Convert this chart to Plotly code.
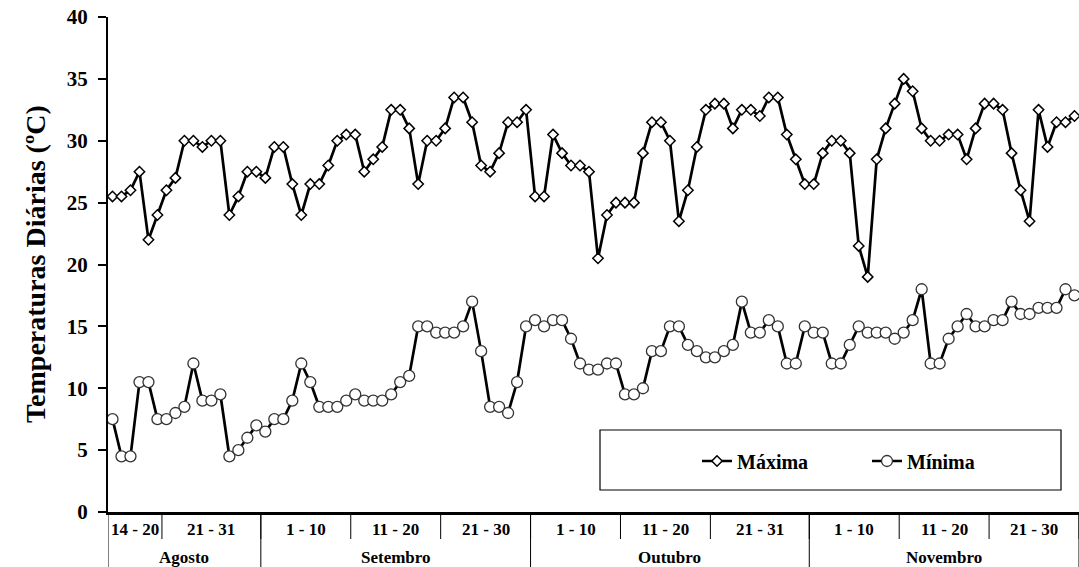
import plotly.graph_objects as go

# ---- data ----
maxima = [25.5, 25.5, 26, 27.5, 22, 24, 26, 27, 30, 30, 29.5, 30, 30, 24, 25.5, 27.5, 27.5,
          27, 29.5, 29.5, 26.5, 24, 26.5, 26.5, 28, 30, 30.5, 30.5, 27.5, 28.5, 29.5, 32.5, 32.5, 31,
          26.5, 30, 30, 31, 33.5, 33.5, 31.5, 28, 27.5, 29, 31.5, 31.5, 32.5,
          25.5, 25.5, 30.5, 29, 28, 28, 27.5, 20.5, 24, 25, 25, 25, 29, 31.5, 31.5, 30, 23.5,
          26, 29.5, 32.5, 33, 33, 31, 32.5, 32.5, 32, 33.5, 33.5, 30.5, 28.5, 26.5, 26.5,
          29, 30, 30, 29, 21.5, 19, 28.5, 31, 33, 35, 34, 31, 30, 30, 30.5, 30.5, 28.5, 31,
          33, 33, 32.5, 29, 26, 23.5, 32.5, 29.5, 31.5, 31.5, 32]
minima = [7.5, 4.5, 4.5, 10.5, 10.5, 7.5, 7.5, 8, 8.5, 12, 9, 9, 9.5, 4.5, 5, 6, 7,
          6.5, 7.5, 7.5, 9, 12, 10.5, 8.5, 8.5, 8.5, 9, 9.5, 9, 9, 9, 9.5, 10.5, 11,
          15, 15, 14.5, 14.5, 14.5, 15, 17, 13, 8.5, 8.5, 8, 10.5, 15,
          15.5, 15, 15.5, 15.5, 14, 12, 11.5, 11.5, 12, 12, 9.5, 9.5, 10, 13, 13, 15, 15,
          13.5, 13, 12.5, 12.5, 13, 13.5, 17, 14.5, 14.5, 15.5, 15, 12, 12,
          15, 14.5, 14.5, 12, 12, 13.5, 15, 14.5, 14.5, 14.5, 14, 14.5, 15.5, 18, 12, 12,
          14, 15, 16, 15, 15, 15.5, 15.5, 17, 16, 16, 16.5, 16.5, 16.5, 18, 17.5]

period_labels = ["14 - 20", "21 - 31", "1 - 10", "11 - 20", "21 - 30", "1 - 10", "11 - 20",
                 "21 - 31", "1 - 10", "11 - 20", "21 - 30"]
period_days = [6, 11, 10, 10, 10, 10, 10, 11, 10, 10, 10]
month_labels = ["Agosto", "Setembro", "Outubro", "Novembro"]
month_days = [17, 30, 31, 30]
y_ticks = [0, 5, 10, 15, 20, 25, 30, 35, 40]

FONT = "Liberation Serif"
n = len(maxima)
x = list(range(n))

fig = go.Figure()
fig.add_trace(go.Scatter(
    x=x, y=maxima, name="Máxima", mode="lines+markers",
    line=dict(color="black", width=2.7),
    marker=dict(symbol="diamond", size=8, color="white", line=dict(color="black", width=1.5)),
))
fig.add_trace(go.Scatter(
    x=x, y=minima, name="Mínima", mode="lines+markers",
    line=dict(color="black", width=2.7),
    marker=dict(symbol="circle", size=11, color="white", line=dict(color="#333333", width=1.3)),
))

W, H = 1079, 567
L, R, T, B = 108, 0, 17, 55
ph = H - T - B
pw = W - L - R

def py(pix):
    return (H - B - pix) / ph

def px(pix):
    return (pix - L) / pw

shapes = []
annotations = []
LBL = dict(family=FONT, size=17, color="black", weight="bold")

# period dividers and labels
start = 0
for lab, d in zip(period_labels, period_days):
    annotations.append(dict(x=start - 0.5 + d / 2, y=py(529), xref="x", yref="paper",
                            text=lab, showarrow=False, yanchor="middle", font=LBL))
    start += d
    shapes.append(dict(type="line", xref="x", yref="paper", x0=start - 0.5, x1=start - 0.5,
                       y0=0, y1=py(539), line=dict(color="black", width=1)))
# month dividers and labels
start = 0
shapes.append(dict(type="line", xref="x", yref="paper", x0=-0.5, x1=-0.5,
                   y0=0, y1=py(567), line=dict(color="black", width=1)))
for lab, d in zip(month_labels, month_days):
    annotations.append(dict(x=start - 0.5 + d / 2, y=py(557), xref="x", yref="paper",
                            text=lab, showarrow=False, yanchor="middle", font=LBL))
    start += d
    shapes.append(dict(type="line", xref="x", yref="paper", x0=start - 0.5, x1=start - 0.5,
                       y0=0, y1=py(567), line=dict(color="black", width=1)))

# legend box
shapes.append(dict(type="rect", xref="paper", yref="paper", x0=px(600), x1=px(1061),
                   y0=py(490), y1=py(430), line=dict(color="black", width=1.2),
                   fillcolor="white", layer="below"))

# y title
annotations.append(dict(x=px(35), y=py(264), xref="paper", yref="paper",
                        text="Temperaturas Diárias (ºC)", textangle=-90, showarrow=False,
                        xanchor="center", yanchor="middle",
                        font=dict(family=FONT, size=28, color="black", weight="bold")))

fig.update_layout(
    width=W, height=H, margin=dict(l=L, r=R, t=T, b=B, autoexpand=False),
    paper_bgcolor="white", plot_bgcolor="white",
    showlegend=True,
    legend=dict(orientation="h", x=px(697), y=py(461), xanchor="left", yanchor="middle",
                bgcolor="rgba(0,0,0,0)", borderwidth=0,
                entrywidth=125, entrywidthmode="pixels",
                font=dict(family=FONT, size=20, color="black", weight="bold")),
    shapes=shapes, annotations=annotations,
    xaxis=dict(range=[-0.5, n - 0.5], showgrid=False, zeroline=False, showticklabels=False,
               ticks="", showline=True, linecolor="black", linewidth=2.5),
    yaxis=dict(range=[0, 40], tickvals=y_ticks, showgrid=False, zeroline=False,
               showline=True, linecolor="black", linewidth=2, ticks="outside", ticklen=8,
               tickcolor="black", tickwidth=1.5, ticklabelstandoff=6,
               tickfont=dict(family=FONT, size=21, color="black", weight="bold")),
)

fig.write_html("out.html", config={"displayModeBar": False},
               post_script="document.body.style.margin='0';")
